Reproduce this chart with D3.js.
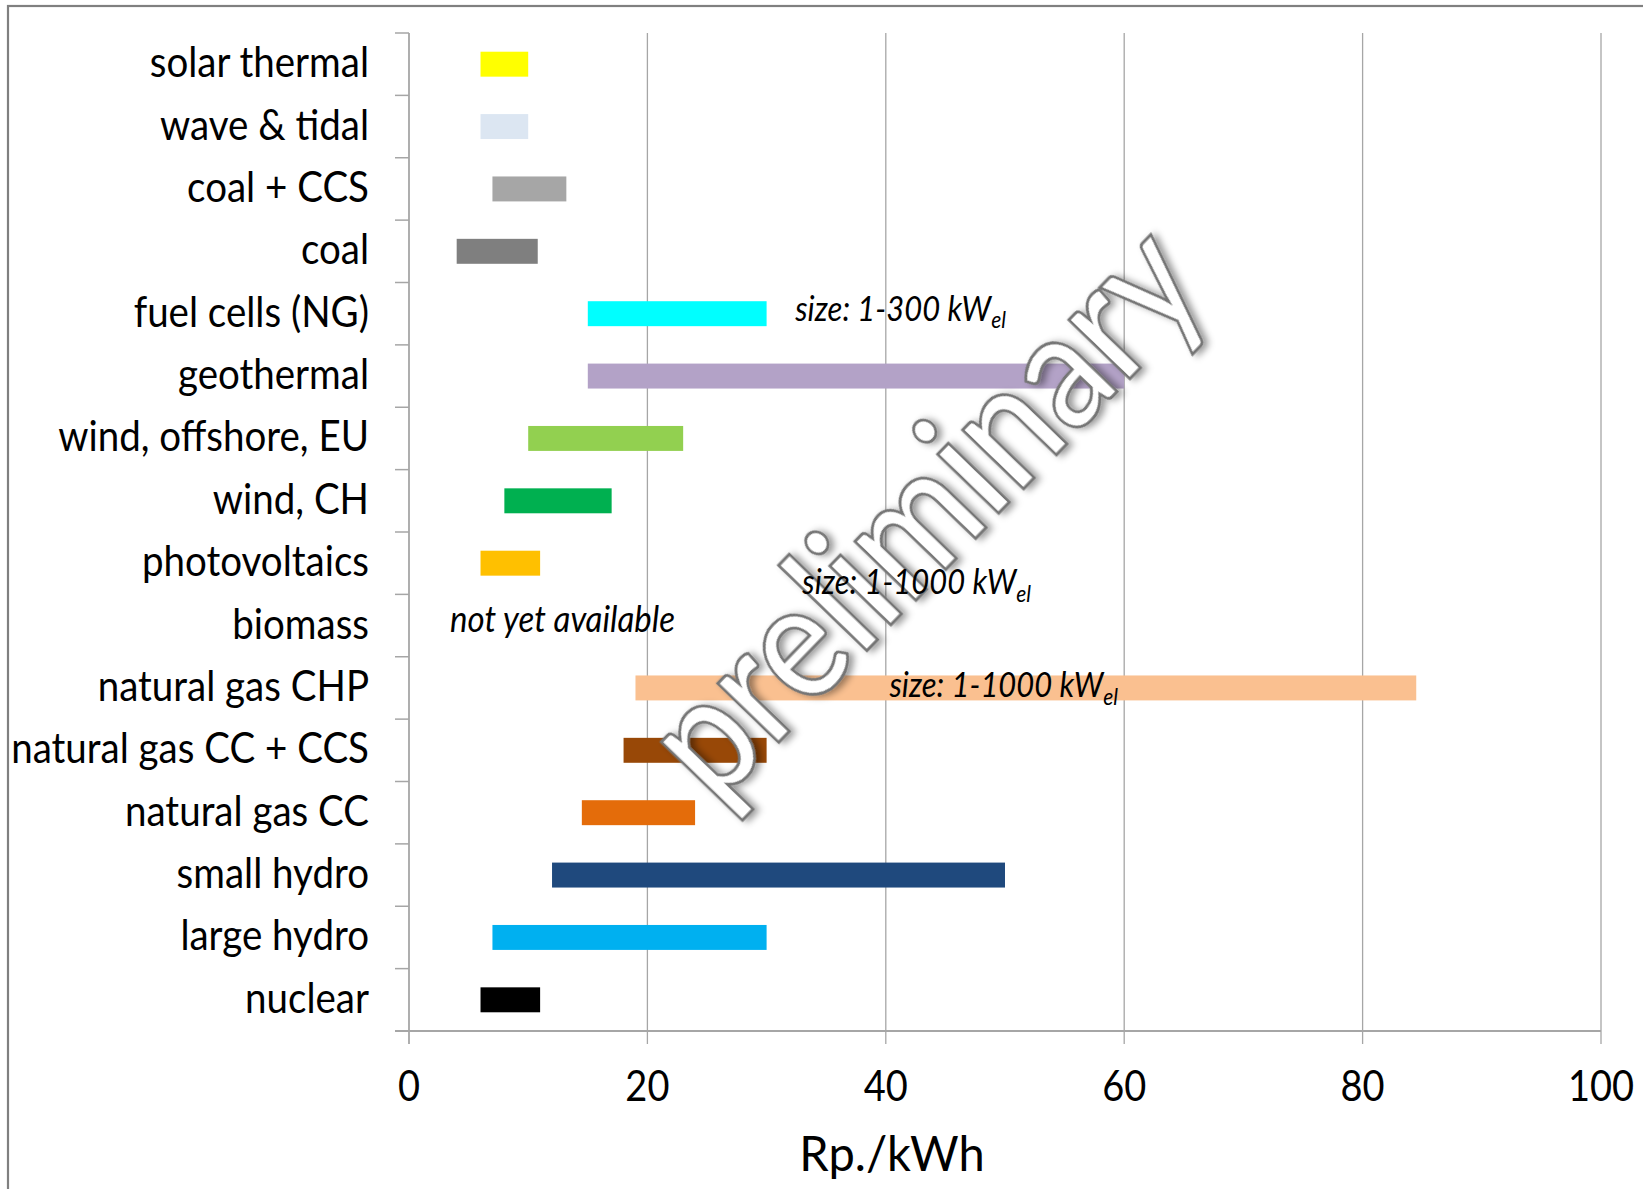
<!DOCTYPE html>
<html><head><meta charset="utf-8">
<script src="https://cdn.jsdelivr.net/npm/d3@7"></script>
<style>body{margin:0;background:#fff;overflow:hidden} svg{display:block}</style>
</head><body><svg id="chart" width="1643" height="1189"></svg>
<script>
const categories = ["solar thermal","wave & tidal","coal + CCS","coal","fuel cells (NG)","geothermal",
  "wind, offshore, EU","wind, CH","photovoltaics","biomass","natural gas CHP","natural gas CC + CCS",
  "natural gas CC","small hydro","large hydro","nuclear"];
const lowValues  = [6, 6, 7, 4, 15, 15, 10, 8, 6, null, 19, 18, 14.5, 12, 7, 6];
const highValues = [10, 10, 13.2, 10.8, 30, 60, 23, 17, 11, null, 84.5, 30, 24, 50, 30, 11];
const barColors = ["#FFFF00","#DCE6F2","#A6A6A6","#7F7F7F","#00FFFF","#B3A2C7","#92D050","#00B050",
  "#FFC000","none","#FAC090","#984807","#E46C0A","#1F497D","#00B0F0","#000000"];
const xTicks = [0, 20, 40, 60, 80, 100];
const xTitle = "Rp./kWh";
const noteTexts = ["size: 1-300 kW", "size: 1-1000 kW", "size: 1-1000 kW", "not yet available"];
const noteSubs = ["el", "el", "el", ""];
const watermarkText = "preliminary";

const svg = d3.select("#chart");
const FONT = "Lato, 'Open Sans', sans-serif";
const axisColor = "#A6A6A6";
const VS = 1.1; // vertical stretch of text as in the reference

// frame
svg.append("rect").attr("x", 8).attr("y", 6).attr("width", 1700).attr("height", 1300)
  .attr("fill", "#fff").attr("stroke", "#808080").attr("stroke-width", 2.2);

const yTop = 33, yBottom = 1031;
const x = d3.scaleLinear().domain([0, 100]).range([409, 1601]);
const y = d3.scaleBand().domain(categories).range([yTop, yBottom]).paddingInner(0.6).paddingOuter(0.3);
const step = y.step();

// gridlines
svg.append("g").selectAll("line").data(xTicks.filter(d => d > 0)).join("line")
  .attr("x1", d => x(d)).attr("x2", d => x(d)).attr("y1", yTop).attr("y2", yBottom + 13)
  .attr("stroke", axisColor).attr("stroke-width", 1.3);

// bars
const data = categories.map((c, i) => ({c, lo: lowValues[i], hi: highValues[i], col: barColors[i]}))
  .filter(d => d.lo != null);
svg.append("g").selectAll("rect").data(data).join("rect")
  .attr("x", d => x(d.lo)).attr("width", d => x(d.hi) - x(d.lo))
  .attr("y", d => y(d.c)).attr("height", y.bandwidth())
  .attr("fill", d => d.col);

// axes
const g = svg.append("g");
g.append("line").attr("x1", x(0)).attr("x2", x(0)).attr("y1", yTop).attr("y2", yBottom + 13)
  .attr("stroke", axisColor).attr("stroke-width", 1.8);
g.append("line").attr("x1", x(0) - 14).attr("x2", x(100)).attr("y1", yBottom).attr("y2", yBottom)
  .attr("stroke", axisColor).attr("stroke-width", 1.8);
const bounds = d3.range(categories.length + 1).map(i => yTop + i * step);
g.selectAll(".yt").data(bounds).join("line").attr("class", "yt")
  .attr("x1", x(0) - 14).attr("x2", x(0)).attr("y1", d => d).attr("y2", d => d)
  .attr("stroke", axisColor).attr("stroke-width", 1.5);

// category labels
svg.append("g").selectAll("text").data(categories).join("text")
  .attr("transform", d => `translate(369,${y(d) + y.bandwidth() / 2 + 13}) scale(1,${VS})`)
  .attr("text-anchor", "end").attr("font-family", FONT).attr("font-size", 38.5)
  .attr("fill", "#000").text(d => d);

// x tick labels
svg.append("g").selectAll("text").data(xTicks).join("text")
  .attr("transform", d => `translate(${x(d)},1101) scale(1,${VS})`).attr("text-anchor", "middle")
  .attr("font-family", FONT).attr("font-size", 38).attr("fill", "#000").text(d => d);

// x title
svg.append("text").attr("transform", `translate(892,1171) scale(1,1.04)`).attr("text-anchor", "middle")
  .attr("font-family", FONT).attr("font-size", 47).attr("fill", "#000").text(xTitle);

// watermark
const defs = svg.append("defs");
const f = defs.append("filter").attr("id", "sh").attr("x", "-20%").attr("y", "-20%").attr("width", "140%").attr("height", "140%");
f.append("feDropShadow").attr("dx", 3).attr("dy", 4).attr("stdDeviation", 3.5)
  .attr("flood-color", "#000").attr("flood-opacity", 0.4);
svg.append("text").attr("transform", "translate(918,506) rotate(-46)")
  .attr("text-anchor", "middle").attr("dominant-baseline", "central")
  .attr("font-family", FONT).attr("font-size", 165).attr("font-weight", 600)
  .attr("textLength", 715).attr("lengthAdjust", "spacingAndGlyphs")
  .attr("fill", "#fff").attr("stroke", "#747474").attr("stroke-width", 3)
  .attr("filter", "url(#sh)").text(watermarkText);

// annotations
const notes = [
  {t: 0, v: 32.4, c: "fuel cells (NG)", dy: 7, fs: 31},
  {t: 1, v: 33.0, c: "photovoltaics", dy: step / 2, fs: 31},
  {t: 2, v: 40.3, c: "natural gas CHP", dy: 9, fs: 31},
  {t: 3, v: 3.45, c: "biomass", dy: 6.5, fs: 33}
];
notes.forEach(n => {
  const t = svg.append("text")
    .attr("transform", `translate(${x(n.v)},${y(n.c) + y.bandwidth() / 2 + n.dy}) scale(1,${VS})`)
    .attr("font-family", FONT).attr("font-style", "italic").attr("font-size", n.fs).attr("fill", "#000");
  t.append("tspan").text(noteTexts[n.t]);
  if (noteSubs[n.t]) t.append("tspan").attr("font-size", 21).attr("dy", 7).text(noteSubs[n.t]);
});
</script></body></html>
